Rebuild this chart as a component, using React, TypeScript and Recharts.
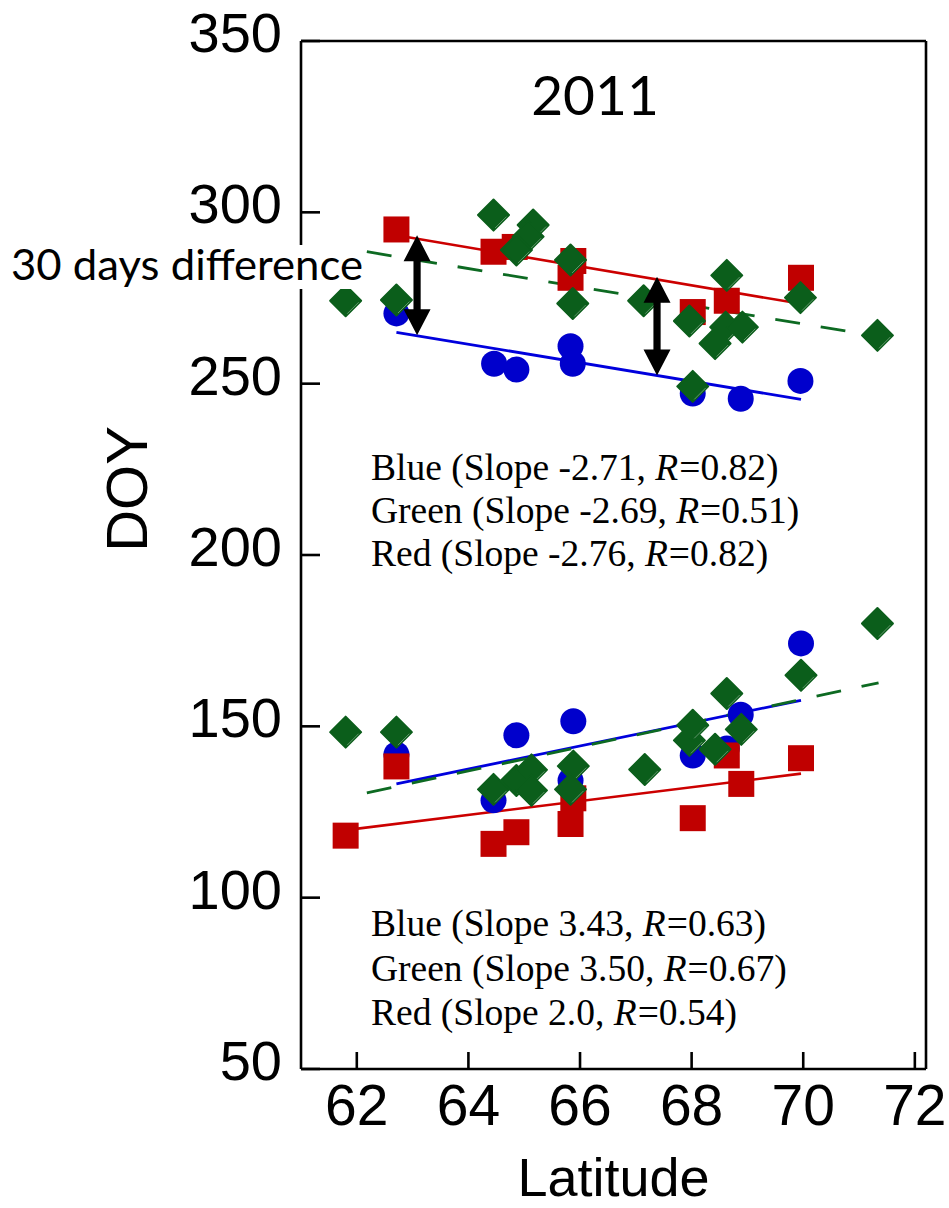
import React from 'react';
import { ScatterChart, Scatter, XAxis, YAxis, ReferenceLine } from 'recharts';

// ---------- tick labels ----------
const xTicks = [62, 64, 66, 68, 70, 72];
const yTicks = [50, 100, 150, 200, 250, 300, 350];
const xDomain: [number, number] = [61, 72.2];
const yDomain: [number, number] = [50, 350];

// ---------- autumn (upper cluster) ----------
const blueAutumn = [
  { lat: 62.71, doy: 270.5 }, { lat: 64.46, doy: 255.8 }, { lat: 64.86, doy: 254.1 },
  { lat: 65.83, doy: 260.9 }, { lat: 65.87, doy: 255.8 }, { lat: 68.02, doy: 247.1 },
  { lat: 68.88, doy: 245.6 }, { lat: 69.95, doy: 250.8 },
];
const redAutumn = [
  { lat: 62.71, doy: 295.0 }, { lat: 64.45, doy: 288.5 }, { lat: 64.83, doy: 289.9 },
  { lat: 65.88, doy: 285.8 }, { lat: 65.83, doy: 280.9 }, { lat: 68.02, doy: 270.9 },
  { lat: 68.63, doy: 274.2 }, { lat: 69.96, doy: 280.9 },
];
const greenAutumn = [
  { lat: 61.80, doy: 274.2 }, { lat: 62.71, doy: 274.4 }, { lat: 64.45, doy: 299.2 },
  { lat: 65.16, doy: 296.3 }, { lat: 65.07, doy: 292.9 }, { lat: 64.86, doy: 289.0 },
  { lat: 65.83, doy: 286.1 }, { lat: 65.87, doy: 273.4 }, { lat: 67.14, doy: 274.2 },
  { lat: 67.96, doy: 268.3 }, { lat: 68.63, doy: 281.6 }, { lat: 68.61, doy: 266.5 },
  { lat: 68.91, doy: 266.5 }, { lat: 68.42, doy: 261.7 }, { lat: 69.95, doy: 275.1 },
  { lat: 71.33, doy: 264.1 }, { lat: 68.02, doy: 249.2 },
];

// ---------- spring (lower cluster) ----------
const blueSpring = [
  { lat: 62.71, doy: 141.8 }, { lat: 64.45, doy: 128.4 }, { lat: 64.86, doy: 147.4 },
  { lat: 65.88, doy: 151.5 }, { lat: 65.83, doy: 134.2 }, { lat: 68.02, doy: 141.5 },
  { lat: 68.63, doy: 143.5 }, { lat: 68.88, doy: 153.4 }, { lat: 69.96, doy: 174.2 },
];
const redSpring = [
  { lat: 61.80, doy: 118.1 }, { lat: 62.71, doy: 138.3 }, { lat: 64.45, doy: 115.7 },
  { lat: 64.86, doy: 119.1 }, { lat: 65.88, doy: 129.0 }, { lat: 65.83, doy: 121.5 },
  { lat: 68.02, doy: 123.2 }, { lat: 68.63, doy: 141.5 }, { lat: 68.89, doy: 133.2 },
  { lat: 69.96, doy: 140.7 },
];
const greenSpring = [
  { lat: 61.80, doy: 148.3 }, { lat: 62.71, doy: 148.3 }, { lat: 64.45, doy: 131.6 },
  { lat: 64.86, doy: 134.2 }, { lat: 65.13, doy: 137.3 }, { lat: 65.13, doy: 131.3 },
  { lat: 65.88, doy: 138.4 }, { lat: 65.83, doy: 131.6 }, { lat: 67.16, doy: 137.4 },
  { lat: 67.96, doy: 145.9 }, { lat: 68.02, doy: 150.3 }, { lat: 68.42, doy: 143.3 },
  { lat: 68.63, doy: 159.6 }, { lat: 68.89, doy: 149.1 }, { lat: 69.96, doy: 164.9 },
  { lat: 71.33, doy: 180.0 },
];

// ---------- regression line end points ----------
const blueAutumnFit = [{ lat: 62.71, doy: 265.0 }, { lat: 69.96, doy: 245.4 }];
const redAutumnFit = [{ lat: 62.71, doy: 293.3 }, { lat: 69.96, doy: 273.3 }];
const greenAutumnFit = [{ lat: 62.18, doy: 288.5 }, { lat: 71.35, doy: 263.8 }];
const blueSpringFit = [{ lat: 62.71, doy: 133.2 }, { lat: 69.96, doy: 157.6 }];
const redSpringFit = [{ lat: 61.80, doy: 119.7 }, { lat: 69.96, doy: 136.2 }];
const greenSpringFit = [{ lat: 62.18, doy: 130.6 }, { lat: 71.35, doy: 162.7 }];

// ---------- double arrows (lat, top doy, bottom doy) ----------
const arrows = [
  { lat: 63.08, top: 293.3, bottom: 264.1 },
  { lat: 67.38, top: 281.2, bottom: 252.4 },
];

// ---------- annotation text ----------
const title = '2011';
const arrowNote = '30 days difference';
const autumnStats = [
  { name: 'Blue', slope: '-2.71', r: '0.82' },
  { name: 'Green', slope: '-2.69', r: '0.51' },
  { name: 'Red', slope: '-2.76', r: '0.82' },
];
const springStats = [
  { name: 'Blue', slope: '3.43', r: '0.63' },
  { name: 'Green', slope: '3.50', r: '0.67' },
  { name: 'Red', slope: '2.0', r: '0.54' },
];

// ---------- style ----------
const W = 949;
const H = 1208;
const LEFT_W = 301;
const TOP_H = 41;
const RIGHT_W = 23;
const BOTTOM_H = 139;
const PLOT_BOTTOM = H - BOTTOM_H;
const PLOT_LEFT = LEFT_W;
const PLOT_RIGHT = W - RIGHT_W;

const BLUE = '#0000CC';
const RED = '#C00000';
const GREEN = '#0B5E1B';
const BLUE_LINE = '#0000DD';
const RED_LINE = '#CC0000';
const GREEN_LINE = '#0D6A22';

const SANS = "'Liberation Sans', Arial, Helvetica, sans-serif";
const SERIF = "'Liberation Serif', 'Times New Roman', Times, serif";
const CALI = "Lato, 'Open Sans', sans-serif";

const AXIS_STROKE = { stroke: '#000', strokeWidth: 2.6 };

const CircleMark = (p: any) => <circle cx={p.cx} cy={p.cy} r={13} fill={BLUE} />;
const SquareMark = (p: any) => (
  <rect x={p.cx - 13} y={p.cy - 13} width={26} height={26} fill={RED} />
);
const DiamondMark = (p: any) => {
  const { cx, cy } = p;
  const h = 15.5;
  return (
    <g>
      <polygon
        points={`${cx},${cy - h} ${cx + h},${cy} ${cx},${cy + h} ${cx - h},${cy}`}
        fill={GREEN}
        stroke={GREEN}
        strokeWidth={2}
        strokeLinejoin="round"
      />
      <line x1={cx + 1.5} y1={cy + 13} x2={cx + 13} y2={cy + 1.5} stroke="#7FA886" strokeWidth={1} opacity={0.75} />
    </g>
  );
};

const ArrowShape = (p: any) => {
  const x = p.x1;
  const top = Math.min(p.y1, p.y2);
  const bot = Math.max(p.y1, p.y2);
  const hw = 13.5;
  const hl = 26;
  const sw = 3.6;
  const pts = [
    [x, top], [x + hw, top + hl], [x + sw, top + hl], [x + sw, bot - hl], [x + hw, bot - hl],
    [x, bot], [x - hw, bot - hl], [x - sw, bot - hl], [x - sw, top + hl], [x - hw, top + hl],
  ].map((q) => q.join(',')).join(' ');
  return <polygon points={pts} fill="#000" />;
};

const XTick = (p: any) => (
  <text x={p.x} y={PLOT_BOTTOM + 56} textAnchor="middle" fontFamily={SANS} fontSize={57} fill="#000">
    {p.payload.value}
  </text>
);
const YTick = (p: any) => (
  <text x={PLOT_LEFT - 19} y={p.y + 11} textAnchor="end" fontFamily={SANS} fontSize={56} fill="#000">
    {p.payload.value}
  </text>
);

const XLabel = () => (
  <text x={(PLOT_LEFT + PLOT_RIGHT) / 2} y={1196} textAnchor="middle" fontFamily={SANS} fontSize={54} fill="#000">
    Latitude
  </text>
);
const YLabel = () => (
  <text
    x={147}
    y={489}
    transform="rotate(-90, 147, 489)"
    textAnchor="middle"
    fontFamily={SANS}
    fontSize={58}
    fill="#000"
  >
    DOY
  </text>
);

const toPts = (arr: { lat: number; doy: number }[]) => arr.map((d) => ({ x: d.lat, y: d.doy }));

const StatsBlock = ({ rows, y0, gap }: { rows: typeof autumnStats; y0: number; gap: number }) => (
  <g>
    {rows.map((r, i) => (
      <text key={i} x={371} y={y0 + i * gap} fontFamily={SERIF} fontSize={37.5} fill="#000">
        {`${r.name} (Slope ${r.slope}, `}
        <tspan fontStyle="italic">R</tspan>
        <tspan dx={1}>{`=${r.r})`}</tspan>
      </text>
    ))}
  </g>
);

export default function App() {
  const fits = [
    { d: blueAutumnFit, c: BLUE_LINE, dash: undefined, w: 2.8 },
    { d: redAutumnFit, c: RED_LINE, dash: undefined, w: 2.6 },
    { d: greenAutumnFit, c: GREEN_LINE, dash: '25 21', w: 2.8 },
    { d: blueSpringFit, c: BLUE_LINE, dash: undefined, w: 2.8 },
    { d: redSpringFit, c: RED_LINE, dash: undefined, w: 2.6 },
    { d: greenSpringFit, c: GREEN_LINE, dash: '25 21', w: 2.8 },
  ];
  return (
    <div style={{ position: 'absolute', left: 0, top: 0, width: W, height: H, background: '#fff' }}>
      <ScatterChart width={W} height={H} margin={{ top: 0, right: 0, bottom: 0, left: 0 }}>
        <XAxis
          xAxisId="b"
          type="number"
          dataKey="x"
          orientation="bottom"
          domain={xDomain}
          ticks={xTicks}
          allowDataOverflow
          height={BOTTOM_H}
          axisLine={AXIS_STROKE}
          tickLine={AXIS_STROKE}
          tickSize={-17}
          tickMargin={17}
          tick={<XTick />}
          label={<XLabel />}
        />
        <XAxis
          xAxisId="t"
          type="number"
          orientation="top"
          domain={xDomain}
          ticks={xTicks}
          allowDataOverflow
          height={TOP_H}
          axisLine={AXIS_STROKE}
          tickLine={AXIS_STROKE}
          tickSize={-19}
          tick={false}
        />
        <YAxis
          yAxisId="l"
          type="number"
          dataKey="y"
          orientation="left"
          domain={yDomain}
          ticks={yTicks}
          allowDataOverflow
          width={LEFT_W}
          axisLine={AXIS_STROKE}
          tickLine={AXIS_STROKE}
          tickSize={-19}
          tickMargin={19}
          tick={<YTick />}
          label={<YLabel />}
        />
        <YAxis
          yAxisId="r"
          type="number"
          orientation="right"
          domain={yDomain}
          ticks={yTicks}
          allowDataOverflow
          width={RIGHT_W}
          axisLine={AXIS_STROKE}
          tickLine={AXIS_STROKE}
          tickSize={-19}
          tick={false}
        />
        {fits.map((f, i) => (
          <ReferenceLine
            key={`fit${i}`}
            xAxisId="b"
            yAxisId="l"
            segment={f.d.map((d) => ({ x: d.lat, y: d.doy }))}
            stroke={f.c}
            strokeWidth={f.w}
            strokeDasharray={f.dash}
            ifOverflow="visible"
          />
        ))}
        <Scatter xAxisId="b" yAxisId="l" data={toPts(blueAutumn)} shape={CircleMark} isAnimationActive={false} />
        <Scatter xAxisId="b" yAxisId="l" data={toPts(blueSpring)} shape={CircleMark} isAnimationActive={false} />
        <Scatter xAxisId="b" yAxisId="l" data={toPts(redAutumn)} shape={SquareMark} isAnimationActive={false} />
        <Scatter xAxisId="b" yAxisId="l" data={toPts(redSpring)} shape={SquareMark} isAnimationActive={false} />
        <Scatter xAxisId="b" yAxisId="l" data={toPts(greenAutumn)} shape={DiamondMark} isAnimationActive={false} />
        <Scatter xAxisId="b" yAxisId="l" data={toPts(greenSpring)} shape={DiamondMark} isAnimationActive={false} />
        {arrows.map((a, i) => (
          <ReferenceLine
            key={`arr${i}`}
            xAxisId="b"
            yAxisId="l"
            segment={[{ x: a.lat, y: a.top }, { x: a.lat, y: a.bottom }]}
            ifOverflow="visible"
            shape={(p: any) => <ArrowShape {...p} />}
            zIndex={1500}
          />
        ))}
      </ScatterChart>
      <svg
        width={W}
        height={H}
        style={{ position: 'absolute', left: 0, top: 0, pointerEvents: 'none' }}
      >
        <text x={595} y={115} textAnchor="middle" fontFamily={CALI} fontSize={55} fill="#000">
          {title}
        </text>
        <rect x={0} y={245} width={366} height={44} fill="#fff" />
        <text x={11} y={280} fontFamily={CALI} fontSize={42} fill="#000" textLength={352} lengthAdjust="spacingAndGlyphs">
          {arrowNote}
        </text>
        <StatsBlock rows={autumnStats} y0={480} gap={43} />
        <StatsBlock rows={springStats} y0={936} gap={44.5} />
      </svg>
    </div>
  );
}
